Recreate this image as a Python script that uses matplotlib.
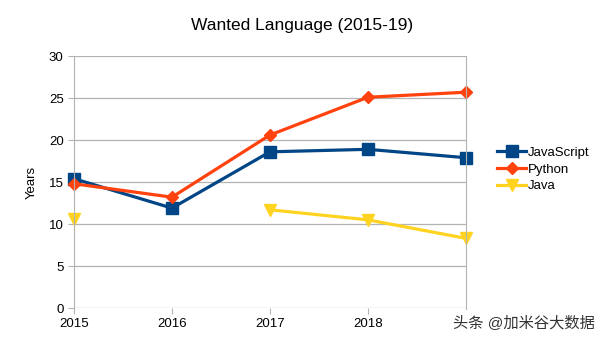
import numpy as np
import matplotlib
matplotlib.use("Agg")
import matplotlib.pyplot as plt

plt.rcParams['font.family'] = ['Liberation Sans', 'Noto Sans CJK SC', 'DejaVu Sans']

years = [2015, 2016, 2017, 2018, 2019]
javascript = [15.4, 11.9, 18.6, 18.9, 17.9]
python = [14.8, 13.2, 20.6, 25.1, 25.7]
java = [10.6, np.nan, 11.7, 10.5, 8.3]

fig = plt.figure(figsize=(6.05, 3.4), dpi=100)
ax = fig.add_axes([0.1223, 0.094, 0.6477, 0.741])

ax.plot(years, javascript, color="#004586", lw=2.3, marker="s", ms=8, label="JavaScript", clip_on=False)
ax.plot(years, python, color="#ff420e", lw=2.3, marker="D", ms=6, label="Python", clip_on=False)
ax.plot(years, java, color="#ffd320", lw=2.3, marker="v", ms=9, label="Java", clip_on=False)

ax.set_xlim(2015, 2019)
ax.set_ylim(0, 30)
ax.set_xticks(years)
ax.set_yticks(range(0, 31, 5))
ax.yaxis.grid(True, color="#b3b3b3", lw=0.9)
ax.set_axisbelow(True)
for s in ["top", "bottom"]:
    ax.spines[s].set_visible(False)
for s in ["left", "right"]:
    ax.spines[s].set_color("#b3b3b3")
ax.tick_params(axis="both", colors="#b3b3b3", labelcolor="black", labelsize=9.5, length=4)
ax.set_ylabel("Years", fontsize=9.5, labelpad=8)

fig.text(0.5, 0.925, "Wanted Language (2015-19)", ha="center", va="center", fontsize=12.5)

ax.legend(loc="center left", bbox_to_anchor=(1.05, 0.55), frameon=False,
          fontsize=9.5, handlelength=2.2, handletextpad=0.1, labelspacing=0.35)

# watermark sits on top of the last tick label, as in the source image
fig.text(0.983, 0.05, "头条 @加米谷大数据", ha="right", va="center", fontsize=11,
         color="#333333", zorder=10,
         bbox=dict(facecolor="white", edgecolor="none", pad=4))

fig.savefig("out.png", dpi=100)
